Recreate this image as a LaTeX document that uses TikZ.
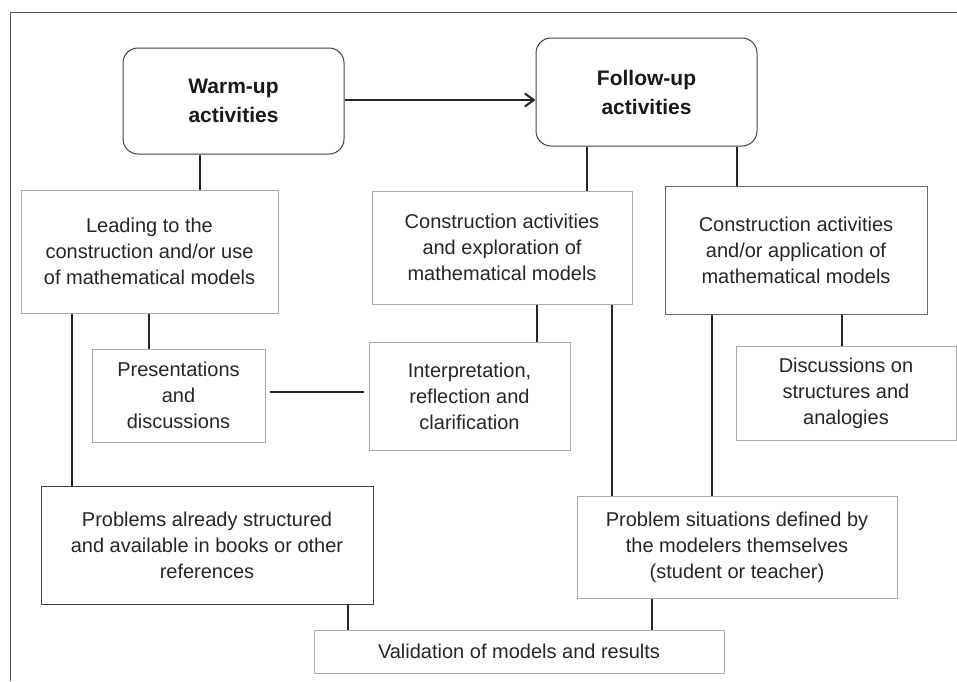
\documentclass[tikz,border=0pt]{standalone}
\usepackage{fontspec}
\setmainfont{Liberation Sans}
\usetikzlibrary{arrows.meta}

\tikzset{
  box/.style={draw=gray!65,line width=1pt,inner sep=0pt,align=center,text=black!85,
    font=\fontsize{20}{26}\selectfont},
  darkbox/.style={box,draw=black!75},
  headbox/.style={draw=black!75,line width=1pt,rounded corners=15pt,inner sep=0pt,align=center,
    text=black!90,font=\fontsize{21}{29}\selectfont\bfseries},
  link/.style={draw=black!85,line width=2pt}
}

\begin{document}
\begin{tikzpicture}[x=1pt,y=-1pt]
\useasboundingbox (0,0) rectangle (957,681);
\draw[gray!70!black,line width=1pt] (10,681)--(10,12)--(957,12);

\node[headbox,minimum width=221,minimum height=106] (warm) at (233.5,101) {Warm-up\\activities};
\node[headbox,minimum width=221,minimum height=108] (follow) at (646.5,92) {Follow-up\\activities};

\node[box,minimum width=257,minimum height=123] (lead) at (149.5,251.5) {Leading to the\\construction and/or use\\of mathematical models};
\node[box,minimum width=260,minimum height=113] (explo) at (502,247.5) {Construction activities\\and exploration of\\mathematical models};
\node[box,draw=gray!80!black,minimum width=262,minimum height=128] (appl) at (796,250) {Construction activities\\and/or application of\\mathematical models};

\node[box,minimum width=173,minimum height=93] (pres) at (178.5,395.5) {Presentations\\and\\discussions};
\node[box,minimum width=201,minimum height=108] (interp) at (469.5,396) {Interpretation,\\reflection and\\clarification};
\node[box,minimum width=220,minimum height=94] (disc) at (846,393) {Discussions on\\structures and\\analogies};

\node[darkbox,minimum width=332,minimum height=118] (prob) at (207,545) {Problems already structured\\and available in books or other\\references};
\node[box,minimum width=320,minimum height=102] (sit) at (737,547) {Problem situations defined by\\the modelers themselves\\(student or teacher)};
\node[box,minimum width=410,minimum height=43] (valid) at (519,651.5) {Validation of models and results};

\draw[link,line width=2.5pt,-{Straight Barb[length=9pt,width=13pt,line width=2pt]}] (warm.east |- 0,100) -- (follow.west |- 0,100);
\foreach \a/\b/\x in {warm/lead/200,follow/explo/587,follow/appl/737,lead/pres/149,lead/prob/72,
  explo/interp/537,explo/sit/612,appl/sit/712,appl/disc/842,prob/valid/348,sit/valid/652}
  \draw[link] (\a.south -| \x,0) -- (\x,0 |- \b.north);
\draw[link] ([xshift=4pt]pres.east |- 0,392) -- ([xshift=-5pt]interp.west |- 0,392);
\end{tikzpicture}
\end{document}
